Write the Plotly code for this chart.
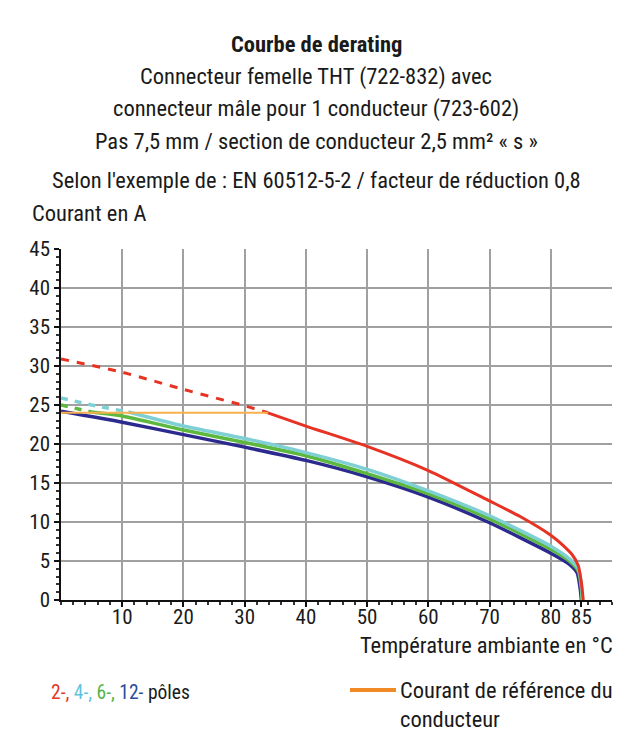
import plotly.graph_objects as go

# ---------------- data ----------------
# 2-pole (red)
red_dash_x = [0, 10, 20, 30, 33.8]
red_dash_y = [30.9, 29.2, 27.0, 24.9, 24.0]
red_x = [33.8, 40, 50, 60, 70, 75, 80, 82, 83.5, 84.5, 85.0, 85.3]
red_y = [24.0, 22.3, 19.7, 16.6, 12.7, 10.7, 8.3, 7.0, 5.8, 4.4, 2.2, 0]
# 4-pole (cyan)
cyan_dash_x = [0, 5, 11]
cyan_dash_y = [25.9, 25.0, 24.1]
cyan_x = [11, 20, 30, 40, 50, 60, 70, 80, 83, 84.5, 85.0, 85.2]
cyan_y = [24.1, 22.3, 20.7, 18.9, 16.75, 14.0, 10.8, 6.9, 5.3, 4.0, 2.0, 0]
# 6-pole (green)
green_dash_x = [0, 5]
green_dash_y = [25.0, 24.1]
green_x = [5, 10, 20, 30, 40, 50, 60, 70, 80, 83, 84.5, 85.0, 85.1]
green_y = [24.1, 23.6, 21.8, 20.2, 18.5, 16.2, 13.6, 10.4, 6.5, 5.0, 3.7, 1.5, 0]
# 12-pole (blue)
blue_x = [0, 10, 20, 30, 40, 50, 60, 70, 80, 83, 84.3, 84.8, 85.0]
blue_y = [24.2, 22.8, 21.2, 19.6, 17.9, 15.8, 13.2, 9.9, 6.0, 4.6, 3.5, 1.5, 0]
# reference current of the conductor (orange)
ref_x = [0, 33.8]
ref_y = [24.0, 24.0]

x_tickvals = [10, 20, 30, 40, 50, 60, 70, 80, 85]
x_ticktext = ["10", "20", "30", "40", "50", "60", "70", "80", "85"]
y_tickvals = [0, 5, 10, 15, 20, 25, 30, 35, 40, 45]

title_lines = [
    "<b>Courbe de derating</b>",
    "Connecteur femelle THT (722-832) avec",
    "connecteur mâle pour 1 conducteur (723-602)",
    "Pas 7,5 mm / section de conducteur 2,5 mm² « s »",
    "Selon l'exemple de : EN 60512-5-2 / facteur de réduction 0,8",
]
y_title = "Courant en A"
x_title = "Température ambiante en °C"
legend_left = ("<span style='color:#e2372a'>2-,</span>"
               "<span style='color:#5fc3dc'> 4-,</span>"
               "<span style='color:#52b447'> 6-,</span>"
               "<span style='color:#2a4d9a'> 12-</span> pôles")
legend_right = ["Courant de référence du", "conducteur"]

# ---------------- style ----------------
FONT = "Liberation Sans Narrow, Roboto Condensed, DejaVu Sans Condensed, Arial Narrow, sans-serif"
RED = "#e63323"
CYAN = "#7fd0d4"
GREEN = "#5cb83f"
BLUE = "#2c2a8e"
ORANGE = "#f7b04e"
GRID = "#a0a0a0"
TXT = "#1a1a1a"

W, H = 636, 747
L, R, T, B = 61, 24, 249, 147
plot_h = H - T - B


def py(page_y):
    return (H - B - page_y) / plot_h


def px(page_x):
    return (page_x - L) / (W - L - R)


fig = go.Figure()

fig.add_trace(go.Scatter(x=ref_x, y=ref_y, mode="lines",
                         line=dict(color=ORANGE, width=2), xaxis="x2"))
fig.add_trace(go.Scatter(x=blue_x, y=blue_y, mode="lines",
                         line=dict(color=BLUE, width=3.5, shape="spline", smoothing=0.6)))
fig.add_trace(go.Scatter(x=green_dash_x, y=green_dash_y, mode="lines",
                         line=dict(color=GREEN, width=3.5, dash="7px,7px")))
fig.add_trace(go.Scatter(x=green_x, y=green_y, mode="lines",
                         line=dict(color=GREEN, width=3.5, shape="spline", smoothing=0.6)))
fig.add_trace(go.Scatter(x=cyan_dash_x, y=cyan_dash_y, mode="lines",
                         line=dict(color=CYAN, width=3.5, dash="7px,7px")))
fig.add_trace(go.Scatter(x=cyan_x, y=cyan_y, mode="lines",
                         line=dict(color=CYAN, width=3.5, shape="spline", smoothing=0.6)))
fig.add_trace(go.Scatter(x=red_dash_x, y=red_dash_y, mode="lines",
                         line=dict(color=RED, width=3, dash="8px,8px", shape="spline", smoothing=0.6)))
fig.add_trace(go.Scatter(x=red_x, y=red_y, mode="lines",
                         line=dict(color=RED, width=3, shape="spline", smoothing=0.6)))

annotations = []
title_y = [44, 77, 109, 141, 180]
for txt, yy in zip(title_lines, title_y):
    annotations.append(dict(text=txt, xref="paper", yref="paper", x=px(316), y=py(yy),
                            xanchor="center", yanchor="middle", showarrow=False,
                            font=dict(size=22.5, color=TXT, family=FONT)))
annotations.append(dict(text=y_title, xref="paper", yref="paper", x=px(30), y=py(213),
                        xanchor="left", yanchor="middle", showarrow=False,
                        font=dict(size=22.5, color=TXT, family=FONT)))
annotations.append(dict(text=x_title, xref="paper", yref="paper", x=px(615), y=py(645),
                        xanchor="right", yanchor="middle", showarrow=False,
                        font=dict(size=22.5, color=TXT, family=FONT)))
annotations.append(dict(text=legend_left, xref="paper", yref="paper", x=px(49), y=py(692),
                        xanchor="left", yanchor="middle", showarrow=False,
                        font=dict(size=19.5, color=TXT, family=FONT)))
for txt, yy in zip(legend_right, [690, 719]):
    annotations.append(dict(text=txt, xref="paper", yref="paper", x=px(398), y=py(yy),
                            xanchor="left", yanchor="middle", showarrow=False,
                            font=dict(size=22.5, color=TXT, family=FONT)))

shapes = [dict(type="line", xref="paper", yref="paper", x0=px(350), x1=px(396),
               y0=py(690), y1=py(690), line=dict(color="#f08a24", width=4))]

fig.update_layout(
    width=W, height=H,
    margin=dict(l=L, r=R, t=T, b=B),
    paper_bgcolor="white", plot_bgcolor="white",
    showlegend=False,
    font=dict(family=FONT, size=20, color=TXT),
    xaxis=dict(range=[0, 90], tickmode="array", tickvals=x_tickvals, ticktext=x_ticktext,
               showgrid=False, zeroline=False, showline=True, linecolor="#111", linewidth=1.5,
               ticks="outside", ticklen=5, tickcolor="#111", tickwidth=1.5,
               ticklabelstandoff=-8,
               tickfont=dict(size=21, family=FONT, color=TXT),
               minor=dict(tickmode="linear", tick0=0, dtick=2, ticks="outside",
                          ticklen=3, tickcolor="#333", showgrid=False),
               fixedrange=True),
    xaxis2=dict(range=[0, 90], overlaying="x", anchor="y", side="bottom",
                tickmode="linear", tick0=0, dtick=10, showgrid=True, gridcolor=GRID,
                gridwidth=1.5, showticklabels=False, ticks="", showline=False, zeroline=False),
    yaxis=dict(range=[0, 45], tickmode="array", tickvals=y_tickvals,
               showgrid=True, gridcolor=GRID, gridwidth=1.5, zeroline=False,
               showline=True, linecolor="#111", linewidth=1.5,
               ticks="outside", ticklen=5, tickcolor="#111", tickwidth=1.5,
               tickfont=dict(size=21, family=FONT, color=TXT),
               minor=dict(tickmode="linear", tick0=0, dtick=1, ticks="outside",
                          ticklen=3, tickcolor="#333", showgrid=False),
               fixedrange=True),
    annotations=annotations,
    shapes=shapes,
)

fig.write_html("out.html", config={"displayModeBar": False},
               post_script="document.body.style.margin='0';")
